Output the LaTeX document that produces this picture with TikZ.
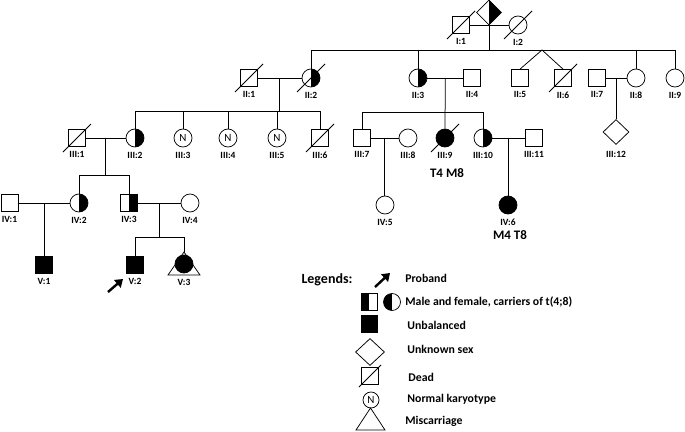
\documentclass[tikz,border=0pt]{standalone}
\usepackage{fontspec}
\setmainfont{Carlito}
\usetikzlibrary{positioning,calc,arrows.meta,shapes.geometric}

\tikzset{
  male/.style={draw, rectangle, minimum size=17pt, inner sep=0pt, fill=white},
  female/.style={draw, circle, minimum size=18pt, inner sep=0pt, fill=white},
  nokind/.style={draw, diamond, minimum width=26pt, minimum height=25pt, inner sep=0pt, fill=white},
  carrierR/.style={path picture={\fill[black] (path picture bounding box.north) rectangle (path picture bounding box.south east);}},
  carrierL/.style={path picture={\fill[black] (path picture bounding box.north west) rectangle (path picture bounding box.south);}},
  affected/.style={fill=black},
  normalk/.style={font=\fontsize{11}{11}\selectfont},
  idlab/.style={font=\bfseries\fontsize{9.5}{10}\selectfont, inner sep=0pt},
  karyo/.style={font=\bfseries\fontsize{13}{13}\selectfont, inner sep=0pt},
  legtitle/.style={font=\bfseries\fontsize{14}{14}\selectfont, inner sep=0pt},
  legtext/.style={font=\bfseries\fontsize{11.8}{12}\selectfont, inner sep=0pt, anchor=west},
  proband/.style={line width=2.4pt, -{Triangle[length=7.5pt,width=10pt]}},
}
\newcommand{\deadmark}[2][14]{\draw ($(#2)+(-#1,#1)$) -- ($(#2)+(#1,-#1)$);}

\begin{document}
\begin{tikzpicture}[x=1pt, y=-1pt, line width=0.75pt, label distance=4.5pt]
\useasboundingbox (0,0) rectangle (685,431);

% generation I
\node[male, label={[idlab]below:I:1}]   (I1) at (461,25) {};
\node[nokind, carrierR, minimum width=25pt] (I0) at (489,12.5) {};
\node[female, label={[idlab]below:I:2}] (I2) at (518,25) {};
\deadmark{I1}
\deadmark{I2}

% generation II
\node[male, label={[idlab]below:II:1}]             (II1) at (249,78) {};
\node[female, carrierR, label={[idlab]below:II:2}] (II2) at (311,78) {};
\node[female, carrierR, label={[idlab]below:II:3}] (II3) at (418,78) {};
\node[male, label={[idlab]below:II:4}]             (II4) at (472,78) {};
\node[male, label={[idlab]below:II:5}]             (II5) at (520,78) {};
\node[male, label={[idlab]below:II:6}]             (II6) at (563,78) {};
\node[male, label={[idlab]below:II:7}]             (II7) at (597,78) {};
\node[female, label={[idlab]below:II:8}]           (II8) at (636,78) {};
\node[female, label={[idlab]below:II:9}]           (II9) at (675,78) {};
\deadmark{II1}
\deadmark{II2}
\deadmark{II6}

% generation III
\node[male, label={[idlab]below:III:1}]             (III1)  at (77,138) {};
\node[female, carrierR, label={[idlab]below:III:2}] (III2)  at (135,138) {};
\node[female, normalk, label={[idlab]below:III:3}]  (III3)  at (183,138) {N};
\node[female, normalk, label={[idlab]below:III:4}]  (III4)  at (228,138) {N};
\node[female, normalk, label={[idlab]below:III:5}]  (III5)  at (277,138) {N};
\node[male, label={[idlab]below:III:6}]             (III6)  at (320,138) {};
\node[male, label={[idlab]below:III:7}]             (III7)  at (362,138) {};
\node[female, label={[idlab]below:III:8}]           (III8)  at (408,138) {};
\node[female, affected, label={[idlab]below:III:9}] (III9)  at (445,138) {};
\node[female, carrierR, label={[idlab]below:III:10}] (III10) at (483,138) {};
\node[male, label={[idlab]below:III:11}]            (III11) at (534,138) {};
\node[nokind, label={[idlab, label distance=6.5pt]below:III:12}] (III12) at (616,132) {};
\deadmark{III1}
\deadmark{III6}
\deadmark{III9}
\node[karyo] (kIII9) at (447,173) {T4 M8};

% generation IV
\node[male, label={[idlab]below:IV:1}]             (IV1) at (9.5,203) {};
\node[female, carrierR, label={[idlab]below:IV:2}] (IV2) at (79,203) {};
\node[male, carrierR, label={[idlab]below:IV:3}]   (IV3) at (129,203) {};
\node[female, label={[idlab]below:IV:4}]           (IV4) at (190,203) {};
\node[female, label={[idlab]below:IV:5}]           (IV5) at (385,205) {};
\node[female, affected, label={[idlab]below:IV:6}] (IV6) at (508,205) {};
\node[karyo] (kIV6) at (510,235) {M4 T8};

% generation V
\node[male, affected, label={[idlab]below:V:1}] (V1) at (44,265) {};
\node[male, affected, label={[idlab]below:V:2}] (V2) at (135,265) {};
\node[female, affected, label={[idlab, label distance=5.5pt]below:V:3}] (V3) at (184,264) {};
\coordinate (V3top) at ($(V3)+(0,-12)$);
\draw ($(V3)+(-16,11)$) -- (V3top) -- ($(V3)+(16,11)$) -- cycle;
\coordinate (pbA) at (108,292);
\coordinate (pbB) at (123,279);
\draw[proband] (pbA) -- (pbB);

% marriage and descent lines
\coordinate (sII) at (489,50);
\coordinate (tw)  at (542,50);
\draw (I1) -- (I2);
\draw (I0) -- (sII);
\draw (II2 |- sII) -- (II9 |- sII);
\foreach \c in {II2,II3,II8,II9} \draw (\c |- sII) -- (\c);
\draw (II5.north) -- (tw) -- (II6.north);

\draw (II1) -- (II2);
\coordinate (dII12) at ($(II1.east)!0.5!(II2.west)$);
\coordinate (sIIIa) at ($(dII12)+(0,33)$);
\draw (dII12) -- (sIIIa);
\draw (III2 |- sIIIa) -- (III6 |- sIIIa);
\foreach \c in {III2,III3,III4,III5,III6} \draw (\c |- sIIIa) -- (\c);

\draw (II3) -- (II4);
\coordinate (dII34) at ($(II3.east)!0.5!(II4.west)$);
\coordinate (sIIIb) at ($(dII34)+(0,34)$);
\draw (dII34) -- (III9);
\draw (III7 |- sIIIb) -- (III10 |- sIIIb);
\foreach \c in {III7,III10} \draw (\c |- sIIIb) -- (\c);

\draw (II7) -- (II8);
\coordinate (dII78) at ($(II7.east)!0.5!(II8.west)$);
\draw (dII78) -- (dII78 |- III12.north);

\draw (III1) -- (III2);
\coordinate (dIII12) at ($(III1.east)!0.5!(III2.west)$);
\coordinate (sIV) at ($(dIII12)+(0,37)$);
\draw (dIII12) -- (sIV);
\draw (IV2 |- sIV) -- (IV3 |- sIV);
\foreach \c in {IV2,IV3} \draw (\c |- sIV) -- (\c);

\draw (III7) -- (III8);
\coordinate (dIII78) at ($(III7.east)!0.5!(III8.west)$);
\draw (dIII78) -- (dIII78 |- IV5.north);
\draw (III10) -- (III11);
\coordinate (dIII1011) at ($(III10.east)!0.5!(III11.west)$);
\draw (dIII1011) -- (dIII1011 |- IV6.north);

\draw (IV1) -- (IV2);
\coordinate (dIV12) at ($(IV1.east)!0.5!(IV2.west)$);
\draw (dIV12) -- (dIV12 |- V1.north);
\draw (IV3) -- (IV4);
\coordinate (dIV34) at ($(IV3.east)!0.5!(IV4.west)$);
\coordinate (sV) at ($(dIV34)+(0,34)$);
\draw (dIV34) -- (sV);
\draw (V2 |- sV) -- (V3 |- sV);
\draw (V2 |- sV) -- (V2);
\draw (V3 |- sV) -- (V3top);

% legend
\node[legtitle] (leg) at (327,280) {Legends:};
\coordinate (lgA) at (375,287);
\coordinate (lgB) at (390,273);
\draw[proband] (lgA) -- (lgB);
\node[legtext] (tPro) at (405,278) {Proband};
\node[male, carrierL, minimum width=16pt] (lgM) at (369,302) {};
\node[female, carrierL, minimum size=17pt] (lgF) at (392,302) {};
\node[legtext] (tCar) at (405,302) {Male and female, carriers of t(4;8)};
\node[male, affected, minimum width=16pt] (lgU) at (369,324) {};
\node[legtext] (tUnb) at (407,325) {Unbalanced};
\node[nokind, minimum width=29pt, minimum height=27pt] (lgS) at (370,352) {};
\node[legtext] (tUnk) at (407,349) {Unknown sex};
\node[male] (lgD) at (370,376) {};
\deadmark[11]{lgD}
\node[legtext] (tDead) at (408,377) {Dead};
\node[female, normalk, minimum size=16pt] (lgN) at (371,400) {N};
\node[legtext] (tNor) at (407,399) {Normal karyotype};
\coordinate (lgT) at (370.5,419);
\draw ($(lgT)+(-14.5,11)$) -- ($(lgT)+(0,-11)$) -- ($(lgT)+(14.5,11)$) -- cycle;
\node[legtext] (tMis) at (405,421) {Miscarriage};
\end{tikzpicture}
\end{document}
